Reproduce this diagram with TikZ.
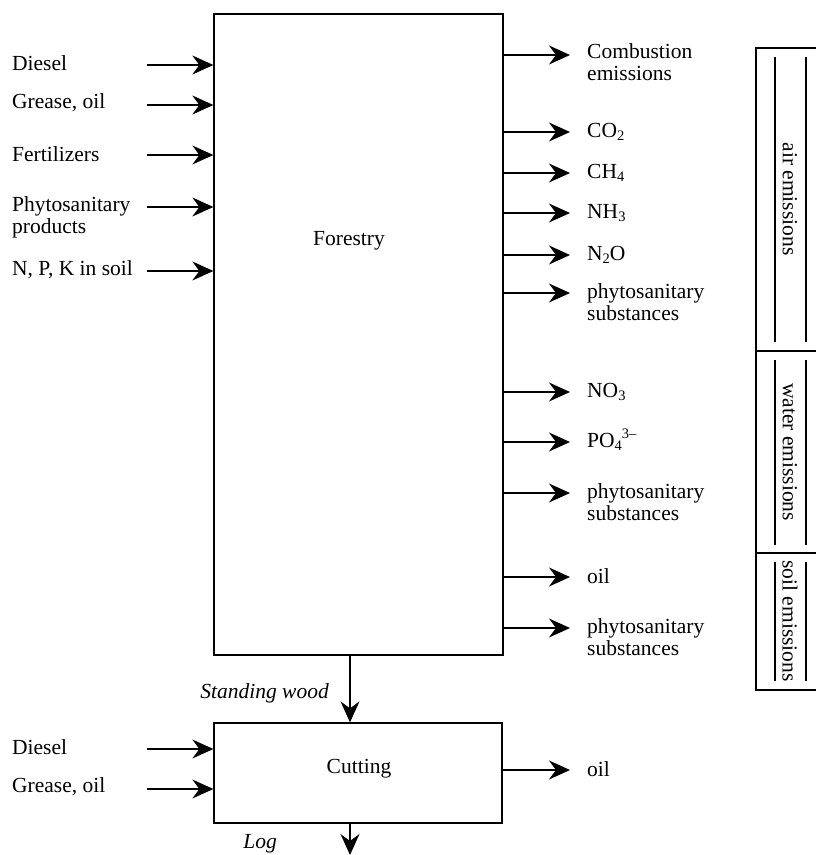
\documentclass[tikz,border=0pt]{standalone}
\usepackage{fontspec}
\setmainfont{Liberation Serif}
\usetikzlibrary{arrows.meta}
% chemical sub- and superscripts
\newcommand\chsub[1]{\raisebox{-0.35ex}{\fontsize{14.5}{14.5}\selectfont #1}}
\newcommand\chsup[1]{\raisebox{0.9ex}{\fontsize{14.5}{14.5}\selectfont #1}}
\begin{document}
\begin{tikzpicture}[x=1pt,y=-1pt,
  every node/.style={font=\fontsize{21.5}{22}\selectfont, inner sep=0pt},
  procbox/.style={draw, line width=1.3pt, rectangle},
  arr/.style={line width=1.3pt, -{Stealth[length=21pt,width=19pt,inset=7pt]}},
  inlbl/.style={anchor=west, align=left},
  outlbl/.style={anchor=west, align=left},
  flowlbl/.style={anchor=east, font=\fontsize{21.5}{22}\selectfont\itshape},
  bar/.style={line width=2pt},
  emis/.style={rotate=-90}]
\useasboundingbox (0,0) rectangle (815,855);

% process boxes
\node[procbox, minimum width=289pt, minimum height=641pt] (forestry) at (358.5,334.5) {};
\node (forestrylbl) at (349,241) {Forestry};
\node[procbox, minimum width=288pt, minimum height=100pt] (cutting) at (358,773) {};
\node (cuttinglbl) at (359,769) {Cutting};

% inputs to forestry
\coordinate (in1) at (147,65);
\coordinate (in2) at (147,105);
\coordinate (in3) at (147,155);
\coordinate (in4) at (147,207);
\coordinate (in5) at (147,271);
\node[inlbl] (l1) at (12,63) {Diesel};
\node[inlbl] (l2) at (12,103) {Grease, oil};
\node[inlbl] (l3) at (12,154) {Fertilizers};
\node[inlbl, anchor=north west] (l4) at (12,196) {Phytosanitary\\products};
\node[inlbl] (l5) at (12,270) {N, P, K in soil};
\foreach \i in {1,...,5} \draw[arr] (in\i) -- (in\i -| forestry.west);

% outputs of forestry
\coordinate (o1) at (570,55);
\coordinate (o2) at (570,132);
\coordinate (o3) at (570,173);
\coordinate (o4) at (570,213);
\coordinate (o5) at (570,255);
\coordinate (o6) at (570,293);
\coordinate (o7) at (570,392);
\coordinate (o8) at (570,442);
\coordinate (o9) at (570,493);
\coordinate (o10) at (570,577);
\coordinate (o11) at (570,628);
\foreach \i in {1,...,11} \draw[arr] (o\i -| forestry.east) -- (o\i);
\node[outlbl, anchor=north west] (r1) at (587,43) {Combustion\\emissions};
\node[outlbl] (r2) at (587,132) {CO\chsub{2}};
\node[outlbl] (r3) at (587,173) {CH\chsub{4}};
\node[outlbl] (r4) at (587,213) {NH\chsub{3}};
\node[outlbl] (r5) at (587,255) {N\chsub{2}O};
\node[outlbl, anchor=north west] (r6) at (587,283) {phytosanitary\\substances};
\node[outlbl] (r7) at (587,392) {NO\chsub{3}};
\node[outlbl] (r8) at (587,440) {PO\chsub{4}\chsup{3–}};
\node[outlbl, anchor=north west] (r9) at (587,483) {phytosanitary\\substances};
\node[outlbl] (r10) at (587,576) {oil};
\node[outlbl, anchor=north west] (r11) at (587,618) {phytosanitary\\substances};

% forestry to cutting
\coordinate (mainx) at (350,0);
\draw[arr] (forestry.south -| mainx) -- (cutting.north -| mainx);
\node[flowlbl] (swlbl) at (329,693) {Standing wood};

% inputs to cutting
\coordinate (ci1) at (147,749);
\coordinate (ci2) at (147,789);
\node[inlbl] (cl1) at (12,747) {Diesel};
\node[inlbl] (cl2) at (12,787) {Grease, oil};
\foreach \i in {1,2} \draw[arr] (ci\i) -- (ci\i -| cutting.west);

% output of cutting
\coordinate (co1) at (570,770);
\draw[arr] (co1 -| cutting.east) -- (co1);
\node[outlbl] (cr1) at (587,769) {oil};

% log out of cutting
\coordinate (logend) at (350,855);
\draw[arr] (cutting.south -| mainx) -- (logend);
\node[flowlbl] (loglbl) at (277,844) {Log};

% emission compartments
\draw[line width=1.3pt] (830,48) -- (756,48) -- (756,690) -- (830,690);
\draw[line width=1.3pt] (756,351) -- (830,351);
\draw[line width=1.3pt] (756,553) -- (830,553);
\foreach \t/\b in {57/342, 360/545, 562/681} {
  \draw[bar] (775,\t) -- (775,\b);
  \draw[bar] (806,\t) -- (806,\b);
}
\node[emis] (air) at (790,199) {air emissions};
\node[emis] (water) at (790,452) {water emissions};
\node[emis] (soil) at (790,621) {soil emissions};
\end{tikzpicture}
\end{document}
